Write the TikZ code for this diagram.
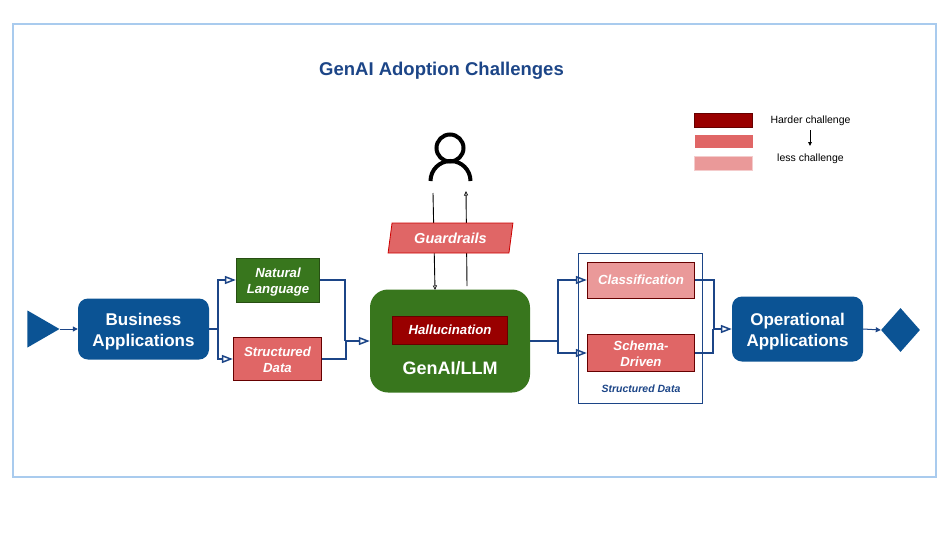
\documentclass[tikz,border=0pt]{standalone}
\usepackage{fontspec}
\setmainfont{Liberation Sans}
\usetikzlibrary{arrows.meta,shapes.geometric}

\definecolor{navy}{HTML}{1C4587}
\definecolor{appblue}{HTML}{0B5394}
\definecolor{framelight}{HTML}{A9CBEE}
\definecolor{leafgreen}{HTML}{38761D}
\definecolor{darkgreen}{HTML}{274E13}
\definecolor{hardred}{HTML}{990000}
\definecolor{darkred}{HTML}{660000}
\definecolor{midred}{HTML}{E06666}
\definecolor{softred}{HTML}{EA9999}
\definecolor{softedge}{HTML}{F4CCCC}
\definecolor{guardedge}{HTML}{CC0000}

\tikzset{
	box/.style={rectangle, draw=darkred, line width=0.8pt, inner sep=0pt, align=center, text=white, font=\fontsize{13.2}{16}\selectfont\bfseries\itshape},
	app/.style={rectangle, rounded corners=10pt, fill=appblue, inner sep=0pt, minimum width=131pt, align=center, text=white, font=\fontsize{17}{21}\selectfont\bfseries},
	toprule/.style={execute at begin node={\rule{0pt}{#1}}},
	flow/.style={navy, line width=2.2pt, -{Triangle[open, length=11pt, width=8pt, line width=1.5pt]}},
	trunk/.style={navy, line width=2.2pt},
	thinflow/.style={navy, line width=1pt, -{Triangle[length=5pt, width=5pt]}},
	talk/.style={black, line width=0.9pt, -{Triangle[open, length=4.5pt, width=4pt, line width=0.7pt]}},
	legend/.style={rectangle, inner sep=0pt, minimum width=58pt, minimum height=13.5pt},
	legendtext/.style={inner sep=0pt, font=\fontsize{10.5}{12}\selectfont}
}

\begin{document}
\begin{tikzpicture}[x=1pt, y=-1pt]
	\useasboundingbox (0, 0) rectangle (950, 544);
	
	% frame
	\draw[framelight, line width=2pt] (12.5, 23.5) rectangle (936, 477);
	\node (title) at (441.5, 70.5) {\fontsize{18.5}{22}\selectfont\bfseries\color{navy}GenAI Adoption Challenges};
	
	% legend
	\node[legend, fill=hardred, draw=darkred, line width=0.5pt] (hard) at (723.5, 120) {};
	\node[legend, fill=midred] (mid) at (723.5, 141.5) {};
	\node[legend, fill=softred, draw=softedge, line width=0.7pt] (soft) at (723.5, 163.5) {};
	\node[legendtext] (hardtext) at (810.5, 121) {Harder challenge};
	\node[legendtext] (softtext) at (810.5, 158.5) {less challenge};
	\coordinate (legtop) at (810, 130);
	\coordinate (legend) at (810, 146);
	\draw[black, line width=0.9pt, -{Triangle[length=4pt, width=3.5pt]}] (legtop) -- (legend);
	
	% person
	\draw[black, line width=4pt] (450, 148) circle (13.5);
	\draw[black, line width=4pt] (430.5, 181) arc[start angle=180, end angle=360, radius=20];
	
	% nodes
	\node[isosceles triangle, isosceles triangle stretches=true, fill=appblue, inner sep=0pt, minimum width=37pt, minimum height=32pt, anchor=apex] (start) at (60, 329) {};
	\node[app, minimum height=61pt, toprule=39.5pt] (biz) at (143.5, 329) {Business\\Applications};
	\node[box, fill=leafgreen, draw=darkgreen, minimum width=83.5pt, minimum height=44pt, toprule=29.5pt] (nat) at (278, 280) {Natural\\Language};
	\node[box, fill=midred, minimum width=88.5pt, minimum height=43pt, toprule=27.5pt] (str) at (277.5, 359) {Structured\\Data};
	\node[rectangle, rounded corners=18pt, fill=leafgreen, inner sep=0pt, minimum width=160pt, minimum height=103pt] (gen) at (450, 341) {};
	\node[box, fill=hardred, minimum width=115.5pt, minimum height=28pt] (hal) at (450, 330) {Hallucination};
	\node[inner sep=0pt, text=white, font=\fontsize{18}{22}\selectfont\bfseries] (gentext) at (450, 368) {GenAI/LLM};
	
	\node[rectangle, draw=navy, line width=0.9pt, inner sep=0pt, minimum width=124pt, minimum height=150pt] (group) at (640.5, 328.5) {};
	\node[box, fill=softred, minimum width=107.5pt, minimum height=36pt] (cla) at (641, 280) {Classification};
	\node[box, fill=midred, minimum width=107.5pt, minimum height=37pt, toprule=27.5pt] (sch) at (641, 353) {Schema-\\Driven};
	\node[inner sep=0pt, text=navy, font=\fontsize{10.5}{12}\selectfont\bfseries\itshape] (grouptext) at (641, 388.5) {Structured Data};
	
	\node[app, minimum height=65pt, toprule=39.5pt] (ops) at (797.5, 329) {Operational\\Applications};
	\node[diamond, fill=appblue, inner sep=0pt, minimum width=39pt, minimum height=44pt] (stop) at (900.5, 330) {};
	
	% person to model
	\coordinate (downtop) at (433, 193);
	\coordinate (downend) at (435, 290);
	\coordinate (uptop) at (466, 191);
	\coordinate (upend) at (467, 286);
	\draw[talk] (downtop) -- (downend);
	\draw[talk] (upend) -- (uptop);
	\node[trapezium, trapezium left angle=77, trapezium right angle=103, trapezium stretches=true, draw=guardedge, fill=midred, line width=0.8pt, inner sep=0pt, minimum width=125pt, minimum height=30pt, text=white, font=\fontsize{14.5}{16}\selectfont\bfseries\itshape] (guard) at (450.5, 238) {Guardrails};
	
	% coordinates of the forks
	\coordinate (forkin) at (218, 329);
	\coordinate (mergea) at (345, 341);
	\coordinate (mergeb) at (346, 341);
	\coordinate (forkout) at (558, 341);
	\coordinate (mergec) at (714, 329);
	\coordinate (merged) at (713, 329);
	
	% flow
	\draw[thinflow] (start.apex) -- (biz.west);
	\draw[trunk] (biz.east) -- (forkin);
	\draw[flow] (forkin) |- (nat.west);
	\draw[flow] (forkin) |- (str.west);
	\draw[trunk] (nat.east) -| (mergea);
	\draw[trunk] (str.east) -| (mergeb);
	\draw[flow] (mergea) -- (gen.west);
	\draw[trunk] (gen.east |- forkout) -- (forkout);
	\draw[flow] (forkout) |- (cla.west);
	\draw[flow] (forkout) |- (sch.west);
	\draw[trunk] (cla.east) -| (mergec);
	\draw[trunk] (sch.east) -| (merged);
	\draw[flow] (merged) -- (ops.west);
	\draw[thinflow] (ops.east) -- (stop.west);
\end{tikzpicture}
\end{document}
